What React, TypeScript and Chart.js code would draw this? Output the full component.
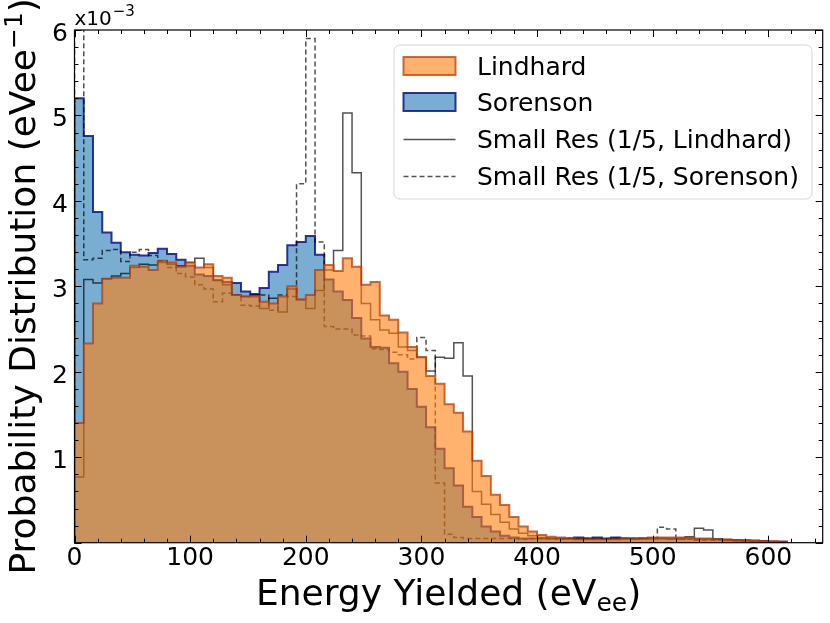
import { useEffect, useRef } from 'react';
import { Chart, registerables } from 'chart.js';

Chart.register(...registerables);

// Histogram bin width (eV_ee); values are probability density in units of 1e-3 eVee^-1
const BIN_WIDTH = 8;

const lindhard = [
  1.40, 2.33, 2.80, 3.09, 3.10, 3.10, 3.24, 3.23, 3.19, 3.30,
  3.28, 3.23, 3.28, 3.22, 3.26, 3.12, 3.10, 2.90, 2.88, 2.88,
  2.82, 2.80, 2.88, 3.00, 2.85, 2.90, 3.19, 3.25, 3.18, 3.33,
  3.23, 3.02, 3.05, 2.66, 2.61, 2.46, 2.29, 2.17, 1.95, 1.86,
  1.62, 1.52, 1.30, 0.96, 0.78, 0.56, 0.44, 0.30, 0.19, 0.13,
  0.09, 0.07, 0.06, 0.05, 0.04, 0.04, 0.04, 0.04, 0.04, 0.05,
  0.05, 0.05, 0.06, 0.06, 0.06, 0.06, 0.06, 0.05, 0.05, 0.04,
  0.04, 0.03, 0.03, 0.03, 0.02, 0.02, 0.015,
];

const sorenson = [
  5.20, 4.76, 3.87, 3.63, 3.51, 3.40, 3.37, 3.36, 3.39, 3.44,
  3.38, 3.31, 3.24, 3.14, 3.12, 3.07, 3.05, 3.04, 2.94, 2.91,
  2.98, 3.17, 3.25, 3.48, 3.52, 3.59, 3.37, 3.08, 2.94, 2.84,
  2.63, 2.39, 2.29, 2.28, 2.10, 2.00, 1.80, 1.59, 1.35, 1.10,
  0.87, 0.67, 0.42, 0.30, 0.19, 0.13, 0.08, 0.06, 0.05, 0.05,
  0.05, 0.05, 0.05, 0.05, 0.06, 0.05, 0.06, 0.05, 0.06, 0.05,
  0.05, 0.05, 0.05, 0.05, 0.05, 0.05, 0.05, 0.04, 0.04, 0.04,
  0.03, 0.03, 0.03, 0.02, 0.02, 0.01, 0.01,
];

const smallResLindhard = [
  0.77, 3.08, 3.04, 3.09, 3.12, 3.15, 3.22, 3.26, 3.25, 3.28,
  3.26, 3.24, 3.28, 3.33, 3.22, 3.07, 3.02, 2.90, 2.88, 2.90,
  2.74, 2.86, 2.70, 2.97, 2.84, 2.74, 2.95, 3.19, 3.42, 5.03,
  4.33, 2.80, 2.61, 2.49, 2.45, 2.29, 2.25, 2.17, 2.01, 2.17,
  2.16, 2.34, 1.95, 0.60, 0.45, 0.33, 0.24, 0.16, 0.11, 0.08,
  0.06, 0.05, 0.05, 0.05, 0.04, 0.05, 0.05, 0.04, 0.05, 0.05,
  0.04, 0.05, 0.05, 0.05, 0.04, 0.04, 0.07, 0.17, 0.15, 0.04,
  0.03, 0.03, 0.02, 0.02, 0.02, 0.01, 0.01,
];

const smallResSorenson = [
  6.80, 3.31, 3.33, 3.42, 3.43, 3.29, 3.40, 3.43, 3.36, 3.30,
  3.22, 3.15, 3.11, 3.02, 2.97, 2.82, 2.92, 2.90, 2.78, 2.77,
  2.90, 2.72, 2.90, 2.88, 4.20, 5.90, 3.52, 2.53, 2.50, 2.50,
  2.43, 2.42, 2.27, 2.26, 2.23, 2.20, 2.15, 2.40, 2.25, 0.70,
  0.10, 0.06, 0.05, 0.05, 0.05, 0.05, 0.05, 0.05, 0.04, 0.05,
  0.05, 0.05, 0.04, 0.05, 0.05, 0.05, 0.04, 0.05, 0.05, 0.05,
  0.05, 0.05, 0.05, 0.18, 0.16, 0.05, 0.04, 0.03, 0.03, 0.03,
  0.03, 0.02, 0.02, 0.02, 0.01, 0.01, 0.01,
];

const seriesLabels = [
  'Lindhard',
  'Sorenson',
  'Small Res (1/5, Lindhard)',
  'Small Res (1/5, Sorenson)',
];

const xMajorTicks = [0, 100, 200, 300, 400, 500, 600];
const yMajorTicks = [1, 2, 3, 4, 5, 6];
const X_MIN = 0;
const X_MAX = 647;
const Y_MIN = 0;
const Y_MAX = 6;
const X_MINOR_STEP = 20;
const Y_MINOR_STEP = 0.2;

const FONT = "'DejaVu Sans', sans-serif";

const ORANGE_FILL = 'rgba(255,127,14,0.6)';
const ORANGE_EDGE = 'rgba(190,60,0,0.75)';
const BLUE_FILL = 'rgba(31,119,180,0.6)';
const BLUE_EDGE = 'rgba(10,20,140,0.85)';
const LINE_COLOR = 'rgba(0,0,0,0.68)';
const DASH = [5, 3];

function toSteps(values: number[]) {
  const pts: { x: number; y: number }[] = [{ x: 0, y: 0 }];
  values.forEach((v, i) => pts.push({ x: i * BIN_WIDTH, y: v }));
  const end = values.length * BIN_WIDTH;
  pts.push({ x: end, y: values[values.length - 1] });
  pts.push({ x: end, y: 0 });
  return pts;
}

const decorPlugin = {
  id: 'decor',
  afterDraw(chart: any) {
    const ctx: CanvasRenderingContext2D = chart.ctx;
    const { left, right, top, bottom } = chart.chartArea;
    const xs = chart.scales.x;
    const ys = chart.scales.y;
    ctx.save();

    // spines
    ctx.strokeStyle = '#000';
    ctx.lineWidth = 1.2;
    ctx.strokeRect(left, top, right - left, bottom - top);

    // ticks (inward, all sides)
    ctx.lineWidth = 1;
    const drawXTick = (v: number, len: number) => {
      const px = Math.round(xs.getPixelForValue(v)) + 0.5;
      ctx.beginPath();
      ctx.moveTo(px, bottom);
      ctx.lineTo(px, bottom - len);
      ctx.moveTo(px, top);
      ctx.lineTo(px, top + len);
      ctx.stroke();
    };
    const drawYTick = (v: number, len: number) => {
      const py = Math.round(ys.getPixelForValue(v)) + 0.5;
      ctx.beginPath();
      ctx.moveTo(left, py);
      ctx.lineTo(left + len, py);
      ctx.moveTo(right, py);
      ctx.lineTo(right - len, py);
      ctx.stroke();
    };
    for (let v = X_MIN; v <= X_MAX + 1e-9; v += X_MINOR_STEP) drawXTick(v, 4);
    xMajorTicks.forEach((v) => drawXTick(v, 7));
    for (let i = 0; i * Y_MINOR_STEP <= Y_MAX + 1e-9; i++) drawYTick(i * Y_MINOR_STEP, 4);
    [0, ...yMajorTicks].forEach((v) => drawYTick(v, 7));

    // tick labels
    ctx.fillStyle = '#000';
    ctx.font = `25px ${FONT}`;
    ctx.textAlign = 'center';
    ctx.textBaseline = 'alphabetic';
    xMajorTicks.forEach((v) => {
      ctx.fillText(String(v), xs.getPixelForValue(v), bottom + 22);
    });
    ctx.textAlign = 'right';
    yMajorTicks.forEach((v) => {
      ctx.fillText(String(v), left - 6.5, ys.getPixelForValue(v) + 11);
    });

    // offset text x10^-3
    ctx.textAlign = 'left';
    ctx.font = `20px ${FONT}`;
    ctx.fillText('x10', left, top - 5);
    const w10 = ctx.measureText('x10').width;
    ctx.font = `15px ${FONT}`;
    ctx.fillText('\u22123', left + w10 + 1, top - 14);

    // x axis title
    const cx = (left + right) / 2;
    ctx.font = `36px ${FONT}`;
    const mainX = 'Energy Yielded (eV';
    const subX = 'ee';
    const endX = ')';
    const wMain = ctx.measureText(mainX).width;
    const wEnd = ctx.measureText(endX).width;
    ctx.font = `25px ${FONT}`;
    const wSub = ctx.measureText(subX).width;
    const total = wMain + wSub + wEnd;
    const x0 = cx - total / 2;
    const by = 605;
    ctx.font = `36px ${FONT}`;
    ctx.fillText(mainX, x0, by);
    ctx.font = `25px ${FONT}`;
    ctx.fillText(subX, x0 + wMain, by + 6);
    ctx.font = `36px ${FONT}`;
    ctx.fillText(endX, x0 + wMain + wSub, by);

    // y axis title (rotated)
    const cy = (top + bottom) / 2;
    ctx.save();
    ctx.translate(35, cy);
    ctx.rotate(-Math.PI / 2);
    ctx.font = `36px ${FONT}`;
    const mainY = 'Probability Distribution (eVee';
    const supY = '\u22121';
    const wMainY = ctx.measureText(mainY).width;
    const wEndY = ctx.measureText(')').width;
    ctx.font = `25px ${FONT}`;
    const wSupY = ctx.measureText(supY).width;
    const totalY = wMainY + wSupY + wEndY;
    const y0 = -totalY / 2;
    ctx.font = `36px ${FONT}`;
    ctx.fillText(mainY, y0, 0);
    ctx.font = `25px ${FONT}`;
    ctx.fillText(supY, y0 + wMainY, -13);
    ctx.font = `36px ${FONT}`;
    ctx.fillText(')', y0 + wMainY + wSupY, 0);
    ctx.restore();

    // legend
    const lx = 394, ly = 45, lw = 418, lh = 154, r = 6;
    ctx.beginPath();
    ctx.moveTo(lx + r, ly);
    ctx.arcTo(lx + lw, ly, lx + lw, ly + lh, r);
    ctx.arcTo(lx + lw, ly + lh, lx, ly + lh, r);
    ctx.arcTo(lx, ly + lh, lx, ly, r);
    ctx.arcTo(lx, ly, lx + lw, ly, r);
    ctx.closePath();
    ctx.fillStyle = 'rgba(255,255,255,0.8)';
    ctx.fill();
    ctx.strokeStyle = '#d5d5d5';
    ctx.lineWidth = 1;
    ctx.stroke();

    const hx = 403.5, hw = 52;
    const rows = [66, 102, 139, 176];
    ctx.lineWidth = 2;
    ctx.fillStyle = ORANGE_FILL;
    ctx.strokeStyle = ORANGE_EDGE;
    ctx.fillRect(hx, rows[0] - 9, hw, 18);
    ctx.strokeRect(hx, rows[0] - 9, hw, 18);
    ctx.fillStyle = BLUE_FILL;
    ctx.strokeStyle = BLUE_EDGE;
    ctx.fillRect(hx, rows[1] - 9, hw, 18);
    ctx.strokeRect(hx, rows[1] - 9, hw, 18);
    ctx.strokeStyle = LINE_COLOR;
    ctx.lineWidth = 1.5;
    ctx.beginPath();
    ctx.moveTo(hx, rows[2] + 0.5);
    ctx.lineTo(hx + hw, rows[2] + 0.5);
    ctx.stroke();
    ctx.setLineDash(DASH);
    ctx.beginPath();
    ctx.moveTo(hx, rows[3] + 0.5);
    ctx.lineTo(hx + hw, rows[3] + 0.5);
    ctx.stroke();
    ctx.setLineDash([]);

    ctx.fillStyle = '#000';
    ctx.font = `25px ${FONT}`;
    ctx.textAlign = 'left';
    seriesLabels.forEach((t, i) => ctx.fillText(t, 477, rows[i] + 9));

    ctx.restore();
  },
};

export default function App() {
  const ref = useRef<HTMLCanvasElement | null>(null);
  useEffect(() => {
    if (!ref.current) return;
    const chart = new Chart(ref.current, {
      type: 'line',
      data: {
        datasets: [
          {
            label: seriesLabels[0],
            data: toSteps(lindhard),
            stepped: true,
            fill: 'origin',
            backgroundColor: ORANGE_FILL,
            borderColor: ORANGE_EDGE,
            borderWidth: 2,
            pointRadius: 0,
            order: 0,
          },
          {
            label: seriesLabels[1],
            data: toSteps(sorenson),
            stepped: true,
            fill: 'origin',
            backgroundColor: BLUE_FILL,
            borderColor: BLUE_EDGE,
            borderWidth: 2,
            pointRadius: 0,
            order: 3,
          },
          {
            label: seriesLabels[2],
            data: toSteps(smallResLindhard),
            stepped: true,
            fill: false,
            borderColor: LINE_COLOR,
            borderWidth: 1.5,
            pointRadius: 0,
            order: 1,
          },
          {
            label: seriesLabels[3],
            data: toSteps(smallResSorenson),
            stepped: true,
            fill: false,
            borderColor: LINE_COLOR,
            borderDash: DASH,
            borderWidth: 1.5,
            pointRadius: 0,
            order: 2,
          },
        ],
      },
      options: {
        responsive: false,
        animation: false,
        devicePixelRatio: 1,
        layout: { padding: { left: 74.5, right: 7.3, top: 30, bottom: 80.3 } },
        scales: {
          x: { type: 'linear', min: X_MIN, max: X_MAX, display: false },
          y: { type: 'linear', min: Y_MIN, max: Y_MAX, display: false },
        },
        plugins: {
          legend: { display: false },
          tooltip: { enabled: false },
        },
      },
      plugins: [decorPlugin],
    });
    return () => chart.destroy();
  }, []);

  return (
    <div style={{ position: 'fixed', left: 0, top: 0, width: 830, height: 623, background: '#fff' }}>
      <canvas ref={ref} width={830} height={623} style={{ display: 'block', width: 830, height: 623 }} />
    </div>
  );
}
